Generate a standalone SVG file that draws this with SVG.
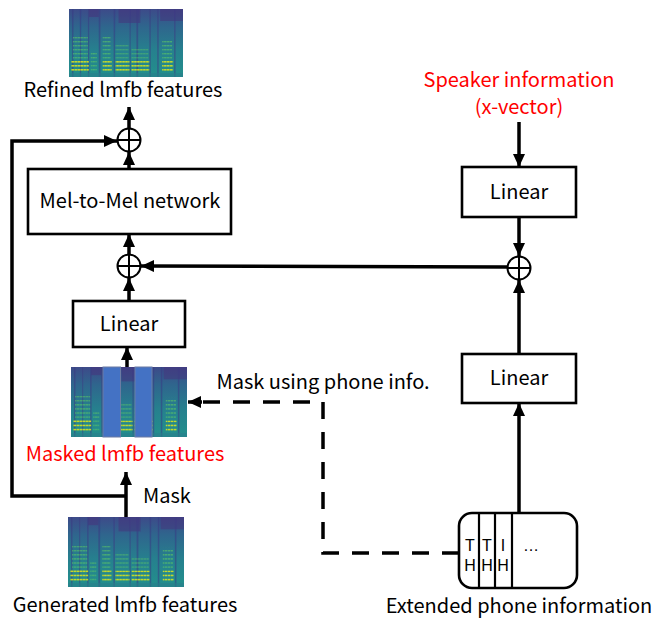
<svg xmlns="http://www.w3.org/2000/svg" width="654" height="621" viewBox="0 0 654 621">
<style>
.t{font-family:"Noto Sans CJK JP","Noto Sans",sans-serif;font-size:20px;fill:#000;text-anchor:middle}
.red{fill:#ff0000}
.box{fill:#fff;stroke:#000;stroke-width:2.6}
.ln{fill:none;stroke:#000;stroke-width:3.5}
.dash{fill:none;stroke:#000;stroke-width:3.5;stroke-dasharray:17 13}
.circ{fill:#fff;stroke:#000;stroke-width:2}
.small{font-family:"Liberation Sans",Arial,sans-serif;font-size:16px;fill:#000;text-anchor:middle}
</style>
<defs>
<marker id="ah" markerUnits="userSpaceOnUse" markerWidth="13" markerHeight="12" refX="13" refY="6" orient="auto">
<path d="M0,0 L13,6 L0,12 z" fill="#000"/>
</marker>
<linearGradient id="sg" x1="0" y1="0" x2="0" y2="1">
<stop offset="0" stop-color="#3d4a89"/>
<stop offset="0.25" stop-color="#2f658d"/>
<stop offset="0.6" stop-color="#26808e"/>
<stop offset="1" stop-color="#22908c"/>
</linearGradient>
<pattern id="hy" width="3" height="4" patternUnits="userSpaceOnUse">
<rect x="0" y="0" width="2.6" height="1.6" fill="#d6e21f"/>
</pattern>
<pattern id="hg" width="3" height="4" patternUnits="userSpaceOnUse">
<rect x="0" y="0" width="2.6" height="1.4" fill="#5ec962"/>
</pattern>
<filter id="soft" x="0" y="0" width="1" height="1">
<feGaussianBlur stdDeviation="0.45"/>
</filter>
<symbol id="spec" viewBox="0 0 115 68" preserveAspectRatio="none">
<rect x="0" y="0" width="115" height="68" fill="url(#sg)"/>
<g filter="url(#soft)">
<g fill="#472c7a" opacity="0.45">
<rect x="50" y="0" width="22" height="14"/>
<rect x="92" y="0" width="23" height="12"/>
<rect x="20" y="0" width="10" height="8"/>
</g>
<g fill="#3b3b83" opacity="0.5">
<rect x="3" y="0" width="1.5" height="68"/>
<rect x="11" y="0" width="1.2" height="68"/>
<rect x="19" y="0" width="1.5" height="68"/>
<rect x="30" y="0" width="1.8" height="68"/>
<rect x="45" y="0" width="1.5" height="68"/>
<rect x="61" y="0" width="1.2" height="68"/>
<rect x="68" y="0" width="1.8" height="68"/>
<rect x="81" y="0" width="1.5" height="68"/>
<rect x="89" y="0" width="1.5" height="68"/>
<rect x="106" y="0" width="1.5" height="68"/>
</g>
<rect x="4" y="28" width="15" height="22" fill="url(#hg)" opacity="0.55"/>
<rect x="2" y="50" width="18" height="13" fill="url(#hy)" opacity="0.9"/>
<rect x="22" y="44" width="6" height="18" fill="url(#hg)" opacity="0.6"/>
<rect x="34" y="28" width="8" height="22" fill="url(#hg)" opacity="0.6"/>
<rect x="34" y="50" width="9" height="13" fill="url(#hy)" opacity="0.9"/>
<rect x="47" y="36" width="13" height="16" fill="url(#hg)" opacity="0.45"/>
<rect x="47" y="52" width="14" height="11" fill="url(#hy)" opacity="0.9"/>
<rect x="63" y="40" width="17" height="12" fill="url(#hg)" opacity="0.45"/>
<rect x="63" y="52" width="18" height="11" fill="url(#hy)" opacity="0.9"/>
<rect x="94" y="30" width="10" height="22" fill="url(#hg)" opacity="0.6"/>
<rect x="94" y="52" width="11" height="11" fill="url(#hy)" opacity="0.9"/>
</g>
<rect x="0" y="64" width="115" height="4" fill="#2a7d8c" opacity="0.6"/>
</symbol>
</defs>

<g id="connectors">
<line class="ln" x1="129" y1="128" x2="129" y2="107" marker-end="url(#ah)"/>
<line class="ln" x1="129" y1="169" x2="129" y2="152" marker-end="url(#ah)"/>
<line class="ln" x1="129" y1="254" x2="129" y2="234" marker-end="url(#ah)"/>
<line class="ln" x1="129" y1="301" x2="129" y2="278" marker-end="url(#ah)"/>
<line class="ln" x1="127" y1="367" x2="127" y2="347" marker-end="url(#ah)"/>
<line class="ln" x1="126" y1="517" x2="126" y2="472" marker-end="url(#ah)"/>
<polyline class="ln" points="126,496 12,496 12,141 117,141" marker-end="url(#ah)"/>
<line class="ln" x1="507" y1="267" x2="141" y2="266" marker-end="url(#ah)"/>
<line class="ln" x1="519" y1="122" x2="519" y2="167" marker-end="url(#ah)"/>
<line class="ln" x1="519" y1="217" x2="519" y2="256" marker-end="url(#ah)"/>
<line class="ln" x1="519" y1="354" x2="519" y2="280" marker-end="url(#ah)"/>
<line class="ln" x1="519" y1="513" x2="519" y2="403" marker-end="url(#ah)"/>
<polyline class="dash" points="459,553 323,553 323,402 200,402"/>
<line class="ln" x1="202" y1="402" x2="188" y2="402" marker-end="url(#ah)"/>
</g>

<g id="refined">
<use href="#spec" x="69" y="9" width="114" height="68"/>
<text class="t" x="123" y="97">Refined lmfb features</text>
</g>

<g id="sum-top">
<circle class="circ" cx="129" cy="140" r="11.5"/>
<path d="M117.5,140 H140.5 M129,128.5 V151.5" stroke="#000" stroke-width="2"/>
</g>

<g id="mel2mel">
<rect class="box" x="28" y="169" width="203" height="65"/>
<text class="t" x="130" y="208">Mel-to-Mel network</text>
</g>

<g id="sum-left">
<circle class="circ" cx="129" cy="266" r="11.5"/>
<path d="M117.5,266 H140.5 M129,254.5 V277.5" stroke="#000" stroke-width="2"/>
</g>

<g id="linear-left">
<rect class="box" x="73" y="301" width="112" height="46"/>
<text class="t" x="129" y="331">Linear</text>
</g>

<g id="masked">
<use href="#spec" x="71" y="367" width="116" height="70"/>
<rect x="103" y="367" width="17.5" height="70" fill="#4472c4" stroke="#6b7ba3" stroke-width="1"/>
<rect x="135" y="367" width="17" height="70" fill="#4472c4" stroke="#6b7ba3" stroke-width="1"/>
<text class="t red" x="125" y="461">Masked lmfb features</text>
</g>

<g id="mask-label">
<text class="t" x="143" y="503" style="text-anchor:start">Mask</text>
</g>

<g id="generated">
<use href="#spec" x="68" y="517" width="116" height="70"/>
<text class="t" x="125" y="612">Generated lmfb features</text>
</g>

<g id="speaker">
<text class="t red" x="519" y="87">Speaker information</text>
<text class="t red" x="519" y="114">(x-vector)</text>
</g>

<g id="linear-top">
<rect class="box" x="462" y="167" width="114" height="50"/>
<text class="t" x="519" y="199">Linear</text>
</g>

<g id="sum-right">
<circle class="circ" cx="519" cy="268" r="11.5"/>
<path d="M507.5,268 H530.5 M519,256.5 V279.5" stroke="#000" stroke-width="2"/>
</g>

<g id="linear-bottom">
<rect class="box" x="462" y="354" width="114" height="49"/>
<text class="t" x="519" y="385">Linear</text>
</g>

<g id="mask-phone-label">
<text class="t" x="323" y="389">Mask using phone info.</text>
</g>

<g id="phone">
<rect class="box" x="459" y="513" width="118" height="75" rx="13" ry="13"/>
<path d="M479,513 V588 M495,513 V588 M512,513 V588" stroke="#000" stroke-width="2.2"/>
<text class="small" x="470" y="551">T</text>
<text class="small" x="487" y="551">T</text>
<text class="small" x="503" y="551">I</text>
<text class="small" x="470" y="571">H</text>
<text class="small" x="487" y="571">H</text>
<text class="small" x="503" y="571">H</text>
<text class="small" x="531" y="551">…</text>
<text class="t" x="519" y="613">Extended phone information</text>
</g>
</svg>
